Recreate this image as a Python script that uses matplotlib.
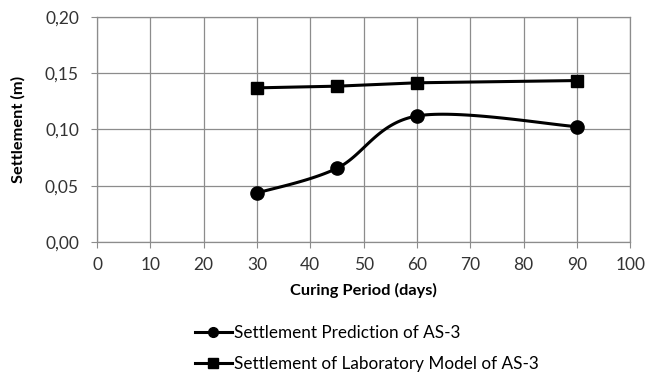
import numpy as np
import matplotlib
matplotlib.use("Agg")
from matplotlib import pyplot as plt
from matplotlib.ticker import FuncFormatter

days = [30, 45, 60, 90]
prediction = [0.0435, 0.0655, 0.112, 0.1025]
laboratory = [0.137, 0.1385, 0.1415, 0.1435]

plt.rcParams['font.family'] = ['Lato', 'DejaVu Sans']


def smooth(xs, ys, n=40):
    # excel-like smoothed line (catmull-rom through the points)
    xs = np.array(xs, float)
    ys = np.array(ys, float)
    px = np.concatenate([[xs[0]], xs, [xs[-1]]])
    py = np.concatenate([[ys[0]], ys, [ys[-1]]])
    out_x, out_y = [], []
    for i in range(1, len(px) - 2):
        p0 = np.array([px[i], py[i]])
        p3 = np.array([px[i + 1], py[i + 1]])
        c1 = p0 + (np.array([px[i + 1], py[i + 1]]) - np.array([px[i - 1], py[i - 1]])) / 6
        c2 = p3 - (np.array([px[i + 2], py[i + 2]]) - np.array([px[i], py[i]])) / 6
        t = np.linspace(0, 1, n)[:, None]
        b = (1 - t) ** 3 * p0 + 3 * (1 - t) ** 2 * t * c1 + 3 * (1 - t) * t ** 2 * c2 + t ** 3 * p3
        out_x.extend(b[:, 0])
        out_y.extend(b[:, 1])
    return out_x, out_y


fig = plt.figure(figsize=(6.6, 3.78), dpi=100)
ax = fig.add_axes([0.147, 0.36, 0.808, 0.595])

sx, sy = smooth(days, prediction)
ax.plot(sx, sy, c="black", linewidth=2.2, zorder=3)
ax.plot(days, prediction, "o", c="black", markersize=9.5, zorder=4)
ax.plot(days, laboratory, c="black", linewidth=2.2, marker="s", markersize=9, zorder=4)

ax.set_xlim(0, 100)
ax.set_ylim(0, 0.20)
ax.set_xticks(range(0, 101, 10))
ax.set_yticks([0, 0.05, 0.10, 0.15, 0.20])
ax.yaxis.set_major_formatter(FuncFormatter(lambda v, p: ("%.2f" % v).replace(".", ",")))
ax.grid(True, color="#8c8c8c", linewidth=0.9)
ax.set_axisbelow(True)
for s in ax.spines.values():
    s.set_color("#8c8c8c")
    s.set_linewidth(0.9)
ax.tick_params(axis="both", colors="#8c8c8c", length=4, pad=7, labelsize=12.5, labelcolor="#333333")
ax.tick_params(axis="y", pad=9)
ax.set_xlabel("Curing Period (days)", fontsize=11.8, fontweight="bold", labelpad=7)
ax.set_ylabel("Settlement (m)", fontsize=11.8, fontweight="bold", labelpad=14)

h1, = ax.plot([], [], c="black", linewidth=2.2, marker="o", markersize=7)
h2, = ax.plot([], [], c="black", linewidth=2.2, marker="s", markersize=7)
fig.legend([h1, h2], ["Settlement Prediction of AS-3", "Settlement of Laboratory Model of AS-3"],
           loc="center left", bbox_to_anchor=(0.295, 0.078), frameon=False, fontsize=12.3,
           handlelength=2.2, handletextpad=0.1, labelspacing=0.85, borderpad=0, borderaxespad=0)

fig.savefig("out.png", dpi=100)
